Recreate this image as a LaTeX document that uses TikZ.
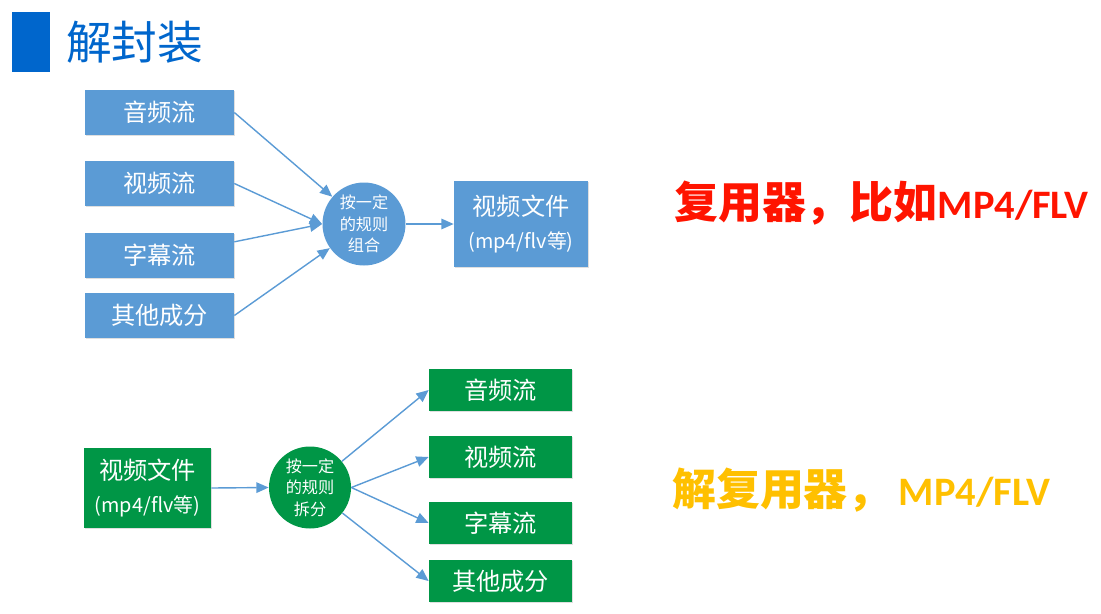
\documentclass[tikz,border=0pt]{standalone}
\usepackage{fontspec}
\setmainfont{Noto Sans CJK SC}
\newfontfamily\latfont{Carlito}
\usetikzlibrary{arrows.meta,shadows}

\definecolor{titleblue}{RGB}{0,102,204}
\definecolor{boxblue}{RGB}{91,155,213}
\definecolor{boxgreen}{RGB}{0,150,70}
\definecolor{muxred}{RGB}{255,20,0}
\definecolor{demuxorange}{RGB}{255,192,0}

\begin{document}
\begin{tikzpicture}[x=0.02cm, y=-0.02cm,
  streambox/.style={fill=#1, text=white, inner sep=0pt, align=center,
    font=\fontsize{13.8}{18.5}\selectfont,
    drop shadow={opacity=0.25, shadow xshift=0.7pt, shadow yshift=-0.7pt}},
  streambox/.default=boxblue,
  rulecircle/.style={circle, fill=#1, text=white, align=center, inner sep=0pt,
    minimum size=1.66cm, font=\fontsize{9.2}{12.3}\selectfont},
  rulecircle/.default=boxblue,
  arrowlink/.style={draw=boxblue, line width=0.8pt, -{Triangle[length=7pt, width=6pt]}}]

\useasboundingbox (0,0) rectangle (1101,613);

% Title
\fill[titleblue] (12,12) rectangle (50,72);
\node[anchor=west, text=titleblue, font=\fontsize{26}{30}\selectfont] (title) at (60,42) {解封装};

% Muxer: streams -> file
\node[streambox, minimum width=2.98cm, minimum height=0.9cm] (s1) at (159.5,112.5) {音频流};
\node[streambox, minimum width=2.98cm, minimum height=0.9cm] (s2) at (159.5,183.5) {视频流};
\node[streambox, minimum width=2.98cm, minimum height=0.9cm] (s3) at (159.5,255) {字幕流};
\node[streambox, minimum width=2.98cm, minimum height=0.9cm] (s4) at (159.5,315.5) {其他成分};
\node[rulecircle] (mux) at (364,224) {按一定\\的规则\\组合};
\node[streambox, minimum width=2.68cm, minimum height=1.72cm] (mfile) at (521,224)
  {视频文件\\{\fontsize{11.3}{12}\selectfont (mp4/flv等)}};

\draw[arrowlink] (s1.east) -- (mux);
\draw[arrowlink] (s2.east) -- (mux.west);
\draw[arrowlink] (s3.10) -- (mux.west);
\draw[arrowlink] (s4.east) -- (mux);
\draw[arrowlink] (mux.east) -- (mfile.west);

% Demuxer: file -> streams
\node[streambox=boxgreen, minimum width=2.54cm, minimum height=1.6cm] (dfile) at (147.5,488)
  {视频文件\\{\fontsize{11.3}{12}\selectfont (mp4/flv等)}};
\node[rulecircle=boxgreen, minimum size=1.64cm] (demux) at (310,487.5) {按一定\\的规则\\拆分};
\node[streambox=boxgreen, minimum width=2.86cm, minimum height=0.84cm] (d1) at (500.5,390) {音频流};
\node[streambox=boxgreen, minimum width=2.86cm, minimum height=0.84cm] (d2) at (500.5,457) {视频流};
\node[streambox=boxgreen, minimum width=2.86cm, minimum height=0.84cm] (d3) at (500.5,523) {字幕流};
\node[streambox=boxgreen, minimum width=2.86cm, minimum height=0.84cm] (d4) at (500.5,581) {其他成分};

\draw[arrowlink] (dfile.east) -- (demux.west);
\draw[arrowlink] (demux) -- (d1.west);
\draw[arrowlink] (demux.east) -- (d2.west);
\draw[arrowlink] (demux.east) -- (d3.west);
\draw[arrowlink] (demux) -- (d4.west);

% Notes
\node[anchor=west, text=muxred, font=\fontsize{25}{30}\selectfont\bfseries] (muxnote) at (668,203)
  {复用器，比如{\latfont\fontsize{23}{30}\selectfont MP4/FLV}};
\node[anchor=west, text=demuxorange, font=\fontsize{25}{30}\selectfont\bfseries] (demuxnote) at (666,490)
  {解复用器，\hspace{4pt}{\latfont\fontsize{23}{30}\selectfont MP4/FLV}};

\end{tikzpicture}
\end{document}
